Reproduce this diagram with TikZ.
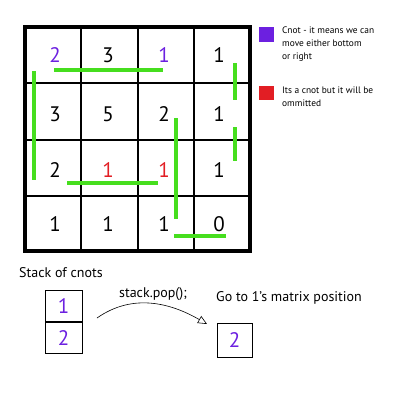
\documentclass[tikz,border=0pt]{standalone}
\usepackage{fontspec}
\setmainfont{PT Sans}
\usetikzlibrary{arrows.meta,positioning}
\definecolor{cnotpurple}{RGB}{108,32,224}
\definecolor{omitred}{RGB}{226,30,36}
\definecolor{pathgreen}{RGB}{70,222,30}

\begin{document}
\begin{tikzpicture}[x=1pt,y=-1pt,every node/.style={inner sep=0pt},
digit/.style={font=\fontsize{21}{21}\selectfont},
cnot/.style={digit,text=cnotpurple},
omit/.style={digit,text=omitred},
pathline/.style={pathgreen,line width=4pt},
stackbox/.style={draw,line width=1pt,minimum width=37pt,minimum height=31pt},
legend/.style={font=\fontsize{9.4}{12.8}\selectfont,align=left,anchor=north west},
caption/.style={font=\fontsize{14}{16}\selectfont,anchor=west}]
\useasboundingbox (0,0) rectangle (400,400);
% matrix grid
\draw[line width=3.3pt] (25,27) rectangle (250,251);
\foreach \x in {81,138,194} \draw[line width=2.6pt] (\x,27) -- (\x,251);
\foreach \y in {83,140,196} \draw[line width=2.6pt] (25,\y) -- (250,\y);
% matrix entries
\node[cnot] (m11) at (55,55) {2};
\node[digit] (m12) at (108,55) {3};
\node[cnot] (m13) at (164,55) {1};
\node[digit] (m14) at (219,55) {1};
\node[digit] (m21) at (55,114) {3};
\node[digit] (m22) at (108,114) {5};
\node[digit] (m23) at (164,114) {2};
\node[digit] (m24) at (219,114) {1};
\node[digit] (m31) at (55,170) {2};
\node[omit] (m32) at (108,170) {1};
\node[omit] (m33) at (164,170) {1};
\node[digit] (m34) at (219,170) {1};
\node[digit] (m41) at (55,224) {1};
\node[digit] (m42) at (108,224) {1};
\node[digit] (m43) at (164,224) {1};
\node[digit] (m44) at (219,224) {0};
% path marks
\draw[pathline] (54,70) -- (163,70);
\draw[pathline] (34,71) -- (34,180);
\draw[pathline] (235,63) -- (235,100);
\draw[pathline] (235,127) -- (235,161);
\draw[pathline] (67,183) -- (158,183);
\draw[pathline] (176,118) -- (176,219);
\draw[pathline] (174,236) -- (226,236);
% legend
\fill[cnotpurple] (259,27) rectangle (274,42);
\node[legend] (cnotkey) at (282,27) {Cnot - it means we can\\move either bottom\\or right};
\fill[omitred] (259,86) rectangle (274,100);
\node[legend] (omitkey) at (282,87) {Its a cnot but it will be\\ommitted};
% stack
\node[caption] (stacklabel) at (19,273) {Stack of cnots};
\node[stackbox,cnot] (top) at (63.5,306) {1};
\node[stackbox,cnot,below=0pt of top] (bottom) {2};
\coordinate (popstart) at (97,318);
\coordinate (popend) at (207,324);
\draw[line width=0.6pt,-{Triangle[open,length=9pt,width=8pt]}] (popstart) to[out=35,in=150] (popend);
\node[font=\fontsize{14}{16}\selectfont] (poplabel) at (153,294) {stack.pop();};
\node[caption] (golabel) at (216,298) {Go to 1’s matrix position};
\node[stackbox,cnot,minimum width=35pt,minimum height=34pt] (popped) at (234.5,340) {2};
\end{tikzpicture}
\end{document}
